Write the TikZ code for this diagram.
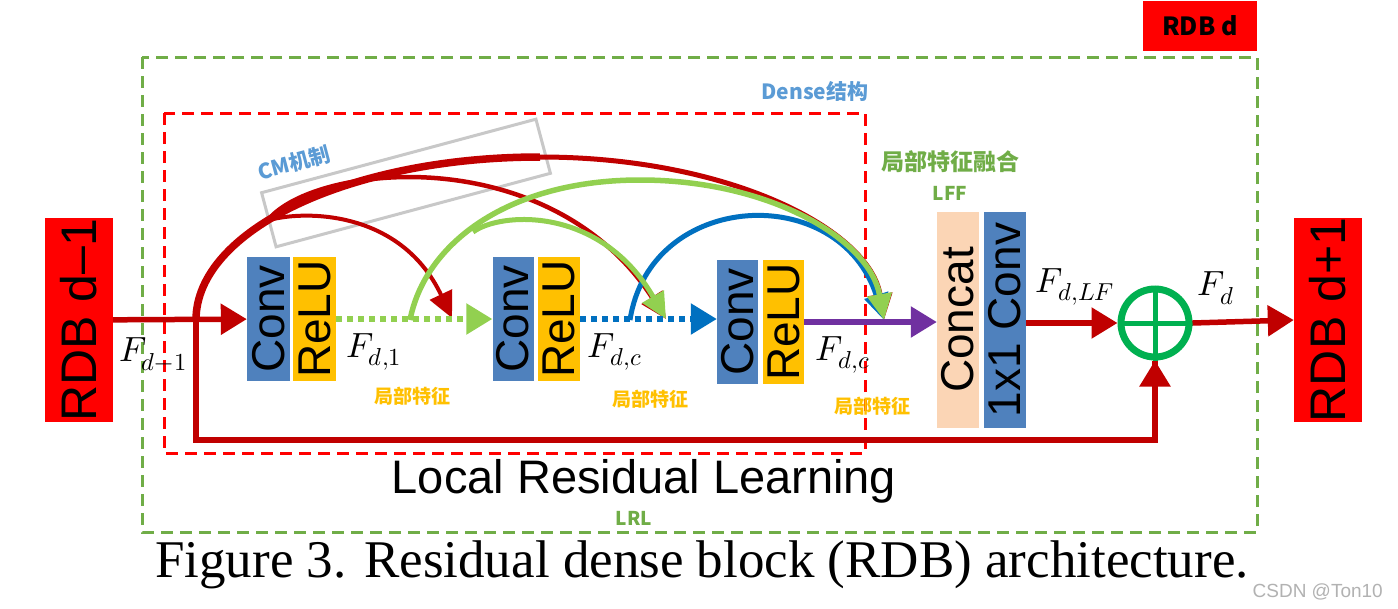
\documentclass[tikz,border=0pt]{standalone}
\usepackage{fontspec}
\usepackage{unicode-math}
\setmathfont{Latin Modern Math}
\setmainfont{Liberation Serif}
\newfontfamily\arialf{Liberation Sans}
\newfontfamily\cjkf{Noto Sans CJK SC}
\usetikzlibrary{arrows.meta,calc}
\definecolor{rdbred}{HTML}{FF0000}
\definecolor{darkred}{HTML}{C00000}
\definecolor{convblue}{HTML}{4F81BD}
\definecolor{reluyellow}{HTML}{FFC000}
\definecolor{peach}{HTML}{FBD5B5}
\definecolor{plusgreen}{HTML}{00B050}
\definecolor{purp}{HTML}{7030A0}
\definecolor{lgreen}{HTML}{92D050}
\definecolor{arcblue}{HTML}{0070C0}
\definecolor{dgreen}{HTML}{70AD47}
\definecolor{txtblue}{HTML}{5B9BD5}
\definecolor{cmgray}{HTML}{C8C8C8}
\begin{document}
\begin{tikzpicture}[x=1pt,y=-1pt,
  blk/.style={minimum width=43pt, minimum height=124pt, inner sep=0pt,
    font=\arialf\fontsize{46}{46}\selectfont},
  tallblk/.style={minimum width=42pt, minimum height=216pt, inner sep=0pt,
    font=\arialf\fontsize{46}{46}\selectfont},
  rdbbox/.style={fill=rdbred, minimum width=68pt, minimum height=204pt, inner sep=0pt,
    font=\arialf\fontsize{50}{50}\selectfont},
  rarrow/.style={draw=darkred, line width=5.5pt, -{Triangle[length=26pt,width=30pt]}},
  arctip/.style={-{Triangle[length=26pt,width=24pt]}},
  flabel/.style={font=\fontsize{35}{40}\selectfont, inner sep=0pt},
  featlabel/.style={font=\cjkf\bfseries\fontsize{19}{22}\selectfont, text=reluyellow, inner sep=0pt},
  cjklabel/.style={font=\cjkf\bfseries\fontsize{21}{24}\selectfont, inner sep=0pt},
]
\useasboundingbox (0,0) rectangle (1398,608);
\fill[white] (0,0) rectangle (1398,608);

% dashed frames
\draw[dgreen, line width=3pt, dash pattern=on 12pt off 7pt] (142,57) rectangle (1257,532);
\draw[rdbred, line width=3pt, dash pattern=on 12pt off 7pt] (164,113) rectangle (865,453);

% CM box
\node[draw=cmgray, line width=3pt, minimum width=284pt, minimum height=56pt, inner sep=0pt, rotate=15] (cmbox) at (406,183) {};
\node[cjklabel, text=txtblue, rotate=15] (cmlab) at (294,163) {CM机制};

% boxes
\node[rdbbox] (rdbA) at (79,320) {\rotatebox{90}{RDB d–1}};
\node[rdbbox] (rdbB) at (1328,320) {\rotatebox{90}{RDB d+1}};
\node[fill=rdbred, minimum width=114pt, minimum height=50pt, inner sep=0pt,
  font=\cjkf\bfseries\fontsize{25}{28}\selectfont] (rdbd) at (1200,26) {RDB d};

\node[blk, fill=convblue] (conv1) at (268.5,319) {\rotatebox{90}{Conv}};
\node[blk, fill=reluyellow] (relu1) at (314.5,319) {\rotatebox{90}{ReLU}};
\node[blk, fill=convblue, minimum width=41pt] (conv2) at (513,319) {\rotatebox{90}{Conv}};
\node[blk, fill=reluyellow, minimum width=42pt] (relu2) at (559,319) {\rotatebox{90}{ReLU}};
\node[blk, fill=convblue, minimum width=41pt] (conv3) at (737.5,322) {\rotatebox{90}{Conv}};
\node[blk, fill=reluyellow, minimum width=41pt] (relu3) at (783.5,322) {\rotatebox{90}{ReLU}};
\node[tallblk, fill=peach] (concat) at (958,320) {\rotatebox{90}{Concat}};
\node[tallblk, fill=convblue] (conv11) at (1005,320) {\rotatebox{90}{1x1 Conv}};

\node[circle, draw=plusgreen, line width=7pt, minimum size=68pt, inner sep=0pt] (plus) at (1155,323) {};
\draw[plusgreen, line width=5pt] (plus.north) -- (plus.south) (plus.west) -- (plus.east);

% coordinates
\coordinate (split) at (196,320);
\coordinate (bottomleft) at (196,440);
\coordinate (bigtop) at (540,157);
\coordinate (a1s) at (266,221);
\coordinate (a1e) at (452,318);
\coordinate (a2s) at (268,220);
\coordinate (a2e) at (666,319);
\coordinate (t3) at (884,320);
\coordinate (g1s) at (410,320);
\coordinate (g2s) at (473,232);
\coordinate (b1s) at (630,320);

% arcs
\draw[darkred, line width=7.5pt] (split) .. controls (196,230) and (350,157) .. (bigtop);
\draw[darkred, line width=5pt, arctip] (bigtop) .. controls (730,157) and (870,230) .. (t3);
\draw[darkred, line width=4.5pt, arctip] (a2s) .. controls (315,163) and (550,140) .. (a2e);
\draw[darkred, line width=4pt, arctip] (a1s) .. controls (300,210) and (400,208) .. (a1e);
\draw[arcblue, line width=5pt, arctip] (b1s) .. controls (650,190) and (840,180) .. (t3);
\draw[lgreen, line width=5.5pt, arctip] (g1s) .. controls (425,243) and (509,180) .. (640,180)
   .. controls (771,180) and (870,240) .. (t3);
\draw[lgreen, line width=5pt, arctip] (g2s) .. controls (500,212) and (600,205) .. (a2e);

% straight connectors
\draw[rarrow] (rdbA) -- (conv1);
\draw[draw=darkred, line width=5.5pt] (split) -- (bottomleft) -| (plus.south);
\draw[rarrow] (bottomleft -| plus.south) ++(0,-1) -- (plus.south);
\draw[draw=lgreen, line width=5.5pt, dash pattern=on 6pt off 5pt, -{Triangle[length=26pt,width=30pt]}] (relu1.east) -- (relu1.east -| conv2.west);
\draw[draw=arcblue, line width=5.5pt, dash pattern=on 6pt off 5pt, -{Triangle[length=26pt,width=30pt]}] (relu2.east) -- (relu2.east -| conv3.west);
\draw[draw=purp, line width=5.5pt, -{Triangle[length=26pt,width=30pt]}] (relu3.east) -- (relu3.east -| concat.west);
\draw[rarrow] (conv11.east |- plus.west) -- (plus.west);
\draw[rarrow] (plus.east) -- (rdbB.west);

% labels
\node[flabel] (fdm1) at (153,354) {$F_{d-1}$};
\node[flabel] (fd1) at (374,352) {$F_{d,1}$};
\node[flabel] (fdc1) at (615,352) {$F_{d,c}$};
\node[flabel] (fdc2) at (843,355) {$F_{d,c}$};
\node[flabel] (fdlf) at (1075,287) {$F_{d,LF}$};
\node[flabel] (fdd) at (1216,288) {$F_{d}$};

\node[featlabel] (feat1) at (412,396) {局部特征};
\node[featlabel] (feat2) at (650,399) {局部特征};
\node[featlabel] (feat3) at (872,406) {局部特征};
\node[cjklabel, text=dgreen, font=\cjkf\bfseries\fontsize{23}{26}\selectfont] (lff1) at (950,162) {局部特征融合};
\node[cjklabel, text=dgreen, font=\cjkf\bfseries\fontsize{19}{22}\selectfont] (lff2) at (950,193) {LFF};
\node[cjklabel, text=txtblue] (dense) at (815,91) {Dense结构};
\node[cjklabel, text=dgreen, font=\cjkf\bfseries\fontsize{19}{22}\selectfont] (lrl) at (634,518) {LRL};

\node[anchor=base, inner sep=0pt, font=\arialf\fontsize{47}{47}\selectfont] (lrltext) at (644,493) {Local Residual Learning};
\node[anchor=base, inner sep=0pt, font=\fontsize{53}{53}\selectfont] (caption) at (702,577) {Figure 3. Residual dense block (RDB) architecture.};
\node[anchor=base east, inner sep=0pt, text=gray!60, font=\arialf\fontsize{19}{19}\selectfont] (wm) at (1383,597) {CSDN @Ton10};
\end{tikzpicture}
\end{document}
